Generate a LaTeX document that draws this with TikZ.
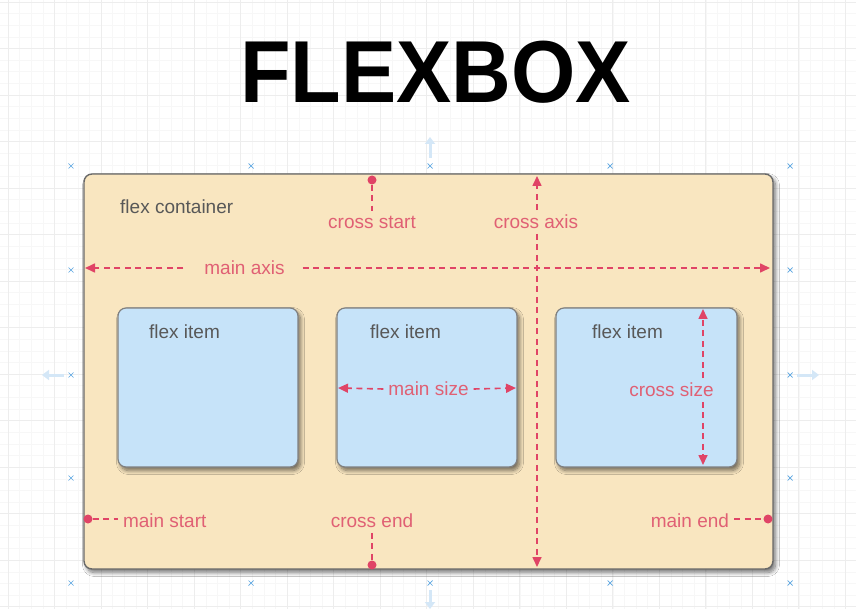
\documentclass[tikz,border=0pt]{standalone}
\usepackage{fontspec}
\setsansfont{Liberation Sans}
\usetikzlibrary{arrows.meta,positioning,shadows.blur}
\tikzset{
  container/.style={draw=edgegray, line width=1.4pt, fill=boxfill, rounded corners=8pt, inner sep=0pt,
    blur shadow={shadow xshift=2.5pt, shadow yshift=-3.5pt, shadow blur steps=8, shadow blur radius=4pt, shadow opacity=55}},
  itembox/.style={draw=edgegray!85, line width=1.2pt, fill=itemfill, rounded corners=8pt, inner sep=0pt,
    minimum width=180pt, minimum height=159pt,
    blur shadow={shadow xshift=2.5pt, shadow yshift=-3.5pt, shadow blur steps=8, shadow blur radius=4pt, shadow opacity=55}},
  graylbl/.style={text=lblgray, font=\sffamily\fontsize{19}{22}\selectfont, inner sep=0pt},
  redlbl/.style={text=lblred, font=\sffamily\fontsize{19}{22}\selectfont, inner sep=0pt, outer sep=5pt},
  axisln/.style={axisred, line width=1.6pt, dash pattern=on 6pt off 4.5pt},
  tipln/.style={axisln, -{Triangle[length=10pt,width=9pt]}},
  endpt/.style={circle, fill=axisred, inner sep=0pt, minimum size=9pt},
  gridln/.style={gridlt, line width=0.6pt},
  gridmaj/.style={griddk, line width=0.7pt},
  handle/.style={handleblue, line width=0.7pt},
  ghost/.style={ghostblue, line width=3pt, -{Triangle[length=7pt,width=10pt]}},
}
\newcommand{\handlex}[2]{%
  \draw[handle] (#1-2.5,#2-2.5) -- (#1+2.5,#2+2.5) (#1-2.5,#2+2.5) -- (#1+2.5,#2-2.5);
}
\definecolor{boxfill}{RGB}{249,230,192}
\definecolor{itemfill}{RGB}{198,227,249}
\definecolor{edgegray}{RGB}{105,105,105}
\definecolor{axisred}{RGB}{224,68,102}
\definecolor{lblred}{RGB}{224,96,116}
\definecolor{lblgray}{RGB}{88,88,88}
\definecolor{gridlt}{RGB}{247,247,247}
\definecolor{griddk}{RGB}{237,237,237}
\definecolor{handleblue}{RGB}{90,165,225}
\definecolor{ghostblue}{RGB}{212,231,247}

\begin{document}
\begin{tikzpicture}[x=1pt, y=-1pt]
    \useasboundingbox[fill=white] (0,0) rectangle (856,609);
    % background grid
    \foreach \gx in {8.1,19.73,...,856} \draw[gridln] (\gx,0) -- (\gx,609);
    \foreach \gy in {2,13.63,...,609} \draw[gridln] (0,\gy) -- (856,\gy);
    \foreach \gx in {8.1,54.6,...,856} \draw[gridmaj] (\gx,0) -- (\gx,609);
    \foreach \gy in {2,48.5,...,609} \draw[gridmaj] (0,\gy) -- (856,\gy);
    % selection handles
    \foreach \hx in {71,251,430,610,790} {\handlex{\hx}{166} \handlex{\hx}{583}}
    \foreach \hy in {270,375,478} {\handlex{71}{\hy} \handlex{790}{\hy}}
    \draw[ghost] (430,158) -- (430,137);
    \draw[ghost] (430,590) -- (430,609);
    \draw[ghost] (64,375) -- (42,375);
    \draw[ghost] (797,375) -- (819,375);

    \node[anchor=base, inner sep=0pt, xscale=0.94, font=\sffamily\bfseries\fontsize{88}{90}\selectfont] (title) at (435.5,103) {FLEXBOX};

    \node[container, minimum width=689pt, minimum height=395pt] (box) at (428.5,371.5) {};
    \node[itembox] (item1) at (208,387.5) {};
    \node[itembox] (item2) at (427,387.5) {};
    \node[itembox, minimum width=181pt] (item3) at (646.5,387.5) {};

    \node[graylbl, anchor=west] (contlbl) at (120,207) {flex container};
    \node[graylbl] (lbl1) at (184.5,332) {flex item};
    \node[graylbl] (lbl2) at (405.5,332) {flex item};
    \node[graylbl] (lbl3) at (627.5,332) {flex item};

    \node[redlbl] (crossstart) at (372,222) {cross start};
    \node[redlbl] (crossaxis) at (536,222) {cross axis};
    \node[redlbl] (mainaxis) at (244.5,268) {main axis};
    \node[redlbl] (mainsize) at (428.5,389) {main size};
    \node[redlbl] (crosssize) at (671.5,390) {cross size};
    \node[redlbl, anchor=west] (mainstart) at (118,521) {main start};
    \node[redlbl] (crossend) at (372,521) {cross end};
    \node[redlbl, anchor=east] (mainend) at (734,521) {main end};

    \node[endpt] (csdot) at (372,180) {};
    \node[endpt] (cedot) at (372,565) {};
    \node[endpt] (msdot) at (88,519) {};
    \node[endpt] (medot) at (768,519) {};

    \coordinate (axL) at (85,268);
    \coordinate (axR) at (770,268);
    \coordinate (caT) at (537,176);
    \coordinate (caB) at (537,567);
    \coordinate (szL) at (338,388);
    \coordinate (szR) at (516,388);
    \coordinate (csT) at (703,309);
    \coordinate (csB) at (703,465);

    % axes
    \draw[tipln, shorten <=16pt] (mainaxis.west) -- (axL);
    \draw[tipln, shorten <=13pt] (mainaxis.east) -- (axR);
    \draw[tipln] (crossaxis.north -| caT) -- (caT);
    \draw[tipln] (crossaxis.south -| caB) -- (caB);
    % start / end markers
    \draw[axisln] (csdot) -- (crossstart.north);
    \draw[axisln] (crossend.south) -- (cedot);
    \draw[axisln] (msdot) -- (msdot -| mainstart.west);
    \draw[axisln] (medot -| mainend.east) -- (medot);
    % sizes
    \draw[tipln] (mainsize.west) -- (szL);
    \draw[tipln] (mainsize.east) -- (szR);
    \draw[tipln] (crosssize.north -| csT) -- (csT);
    \draw[tipln] (crosssize.south -| csB) -- (csB);
\end{tikzpicture}
\end{document}
